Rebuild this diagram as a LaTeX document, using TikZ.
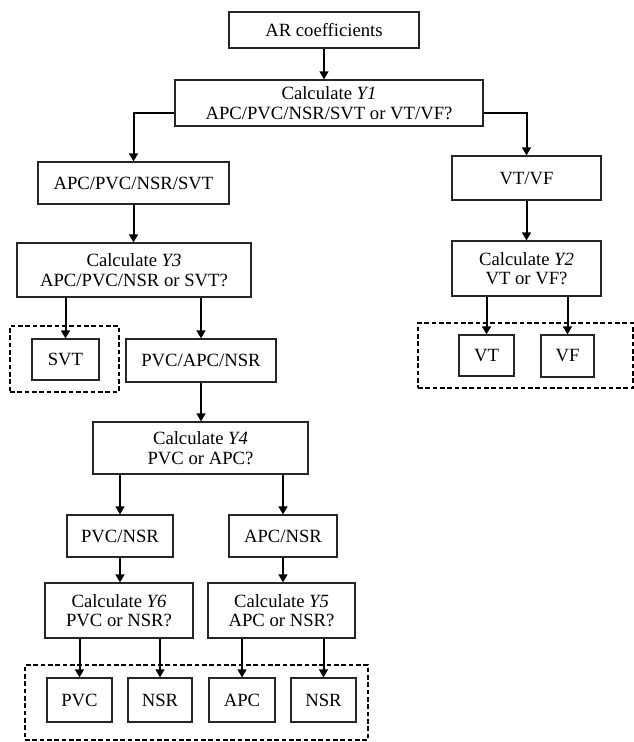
\documentclass[tikz,border=0pt]{standalone}
\usepackage{fontspec}
\setmainfont{Liberation Serif}
\usetikzlibrary{arrows.meta}
\begin{document}
\begin{tikzpicture}[x=0.75pt,y=-0.75pt,
  box/.style 2 args={draw=black!85, line width=0.8pt, align=center, inner sep=0pt,
    minimum width=0.75pt*#1, minimum height=0.75pt*#2,
    font=\fontsize{14}{14.5}\selectfont},
  grp/.style 2 args={draw=black, line width=1.3pt, dash pattern=on 3.5pt off 2pt,
    minimum width=0.75pt*#1, minimum height=0.75pt*#2, inner sep=0pt},
  arr/.style={line width=1.5pt, -{Triangle[length=6pt,width=6.5pt]}}]
\useasboundingbox (0,0) rectangle (634,742);
% group frames
\node[grp={109}{66}] (svtgrp) at (64.5,359) {};
\node[grp={215}{65}] (vgrp) at (525.5,355.5) {};
\node[grp={343}{75}] (bgrp) at (196.5,702.5) {};
% boxes
\node[box={190}{36}] (ar) at (324,30) {AR coefficients};
\node[box={308}{46}] (y1) at (329,103) {Calculate \textit{Y1}\\APC/PVC/NSR/SVT or VT/VF?};
\node[box={191}{42}] (a4) at (133.5,183) {APC/PVC/NSR/SVT};
\node[box={149}{44}] (vtvf) at (526.5,178) {VT/VF};
\node[box={234}{54}] (y3) at (134,270) {Calculate \textit{Y3}\\APC/PVC/NSR or SVT?};
\node[box={149}{55}] (y2) at (526.5,268.5) {Calculate \textit{Y2}\\VT or VF?};
\node[box={67}{41}] (svt) at (65.5,359.5) {SVT};
\node[box={150}{43}] (pan) at (201,360.5) {PVC/APC/NSR};
\node[box={55}{41}] (vt) at (486.5,355.5) {VT};
\node[box={53}{42}] (vf) at (567.5,356) {VF};
\node[box={215}{52}] (y4) at (200.5,448) {Calculate \textit{Y4}\\PVC or APC?};
\node[box={106}{42}] (pn) at (120,536) {PVC/NSR};
\node[box={108}{42}] (an) at (283,536) {APC/NSR};
\node[box={148}{55}] (y6) at (119,610.5) {Calculate \textit{Y6}\\PVC or NSR?};
\node[box={147}{55}] (y5) at (281.5,610.5) {Calculate \textit{Y5}\\APC or NSR?};
\node[box={65}{44}] (pvc) at (79.5,700) {PVC};
\node[box={64}{44}] (nsr1) at (160,700) {NSR};
\node[box={66}{44}] (apc) at (242,700) {APC};
\node[box={65}{44}] (nsr2) at (323.5,700) {NSR};
% connectors
\draw[arr] (ar.south) -- (ar.south|-y1.north);
\draw[arr] ([yshift=-7.5pt]y1.west) -| (a4.north);
\draw[arr] ([yshift=-7.5pt]y1.east) -| (vtvf.north);
\draw[arr] (a4.south) -- (a4.south|-y3.north);
\draw[arr] (vtvf.south) -- (vtvf.south|-y2.north);
\draw[arr] (svt.north|-y3.south) -- (svt.north);
\draw[arr] (pan.north|-y3.south) -- (pan.north);
\draw[arr] (vt.north|-y2.south) -- (vt.north);
\draw[arr] (vf.north|-y2.south) -- (vf.north);
\draw[arr] (pan.south) -- (pan.south|-y4.north);
\draw[arr] (pn.north|-y4.south) -- (pn.north);
\draw[arr] (an.north|-y4.south) -- (an.north);
\draw[arr] (pn.south) -- (pn.south|-y6.north);
\draw[arr] (an.south) -- (an.south|-y5.north);
\draw[arr] (pvc.north|-y6.south) -- (pvc.north);
\draw[arr] (nsr1.north|-y6.south) -- (nsr1.north);
\draw[arr] (apc.north|-y5.south) -- (apc.north);
\draw[arr] (nsr2.north|-y5.south) -- (nsr2.north);
\end{tikzpicture}
\end{document}
